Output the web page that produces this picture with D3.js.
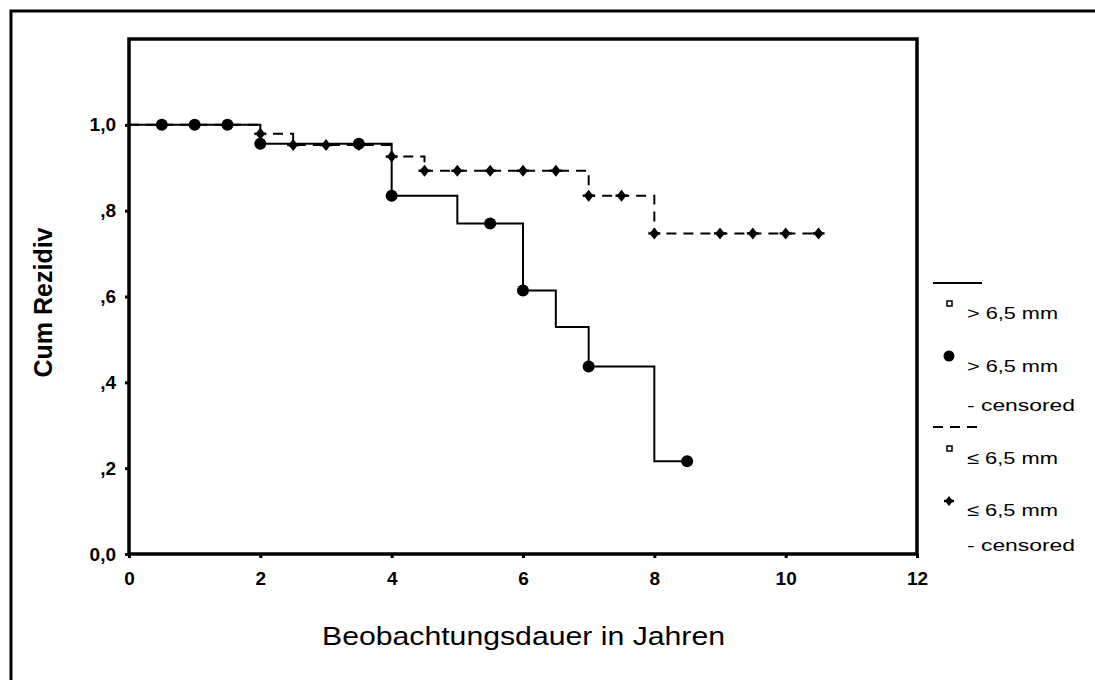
<!DOCTYPE html>
<html>
<head>
<meta charset="utf-8">
<script src="https://cdn.jsdelivr.net/npm/d3@7"></script>
<style>
    body { margin: 0; background: #fff; overflow: hidden; }
    svg { display: block; font-family: "Liberation Sans", Arial, sans-serif; }
</style>
</head>
<body>
<div class="chart"></div>
<script>

// Kaplan-Meier Stufen: [Zeit, Wert]
const gtSteps = [[0, 1.0], [2, 0.956], [4, 0.835], [5, 0.770], [6, 0.614], [6.5, 0.529], [7, 0.437], [8, 0.216]];
const gtEnd = 8.5;
const gtCensored = [0.5, 1, 1.5, 2, 3.5, 4, 5.5, 6, 7, 8.5];

const leSteps = [[0, 1.0], [2, 0.979], [2.5, 0.953], [4, 0.926], [4.5, 0.893], [7, 0.835], [8, 0.747]];
const leEnd = 10.5;
const leCensored = [2, 2.5, 3, 3.5, 4, 4.5, 5, 5.5, 6, 6.5, 7, 7.5, 8, 9, 9.5, 10, 10.5];

const xTicks = [0, 2, 4, 6, 8, 10, 12];
const yTicks = [0, 0.2, 0.4, 0.6, 0.8, 1.0];
const yTickLabels = ["0,0", ",2", ",4", ",6", ",8", "1,0"];

const legendItems = [
    {type: "line", dash: null},
    {type: "square", text: "> 6,5 mm"},
    {type: "circle", text: "> 6,5 mm"},
    {type: "text", text: "- censored"},
    {type: "line", dash: "10,7"},
    {type: "square", text: "\u2264 6,5 mm"},
    {type: "diamond", text: "\u2264 6,5 mm"},
    {type: "text", text: "- censored"}
];

const width = 1095;
const height = 680;

const margin = {left: 129, top: 39, right: 1095 - 917, bottom: 680 - 554};

const svg = d3.select(".chart")
    .append("svg")
    .attr("width", width)
    .attr("height", height);

// Aeusserer Rahmen (nur oben und links sichtbar)
svg.append("path")
    .attr("d", `M11,${height} V11 H${width}`)
    .attr("fill", "none")
    .attr("stroke", "#000")
    .attr("stroke-width", 3);

const x = d3.scaleLinear()
    .domain([0, 12])
    .range([margin.left, width - margin.right]);

const y = d3.scaleLinear()
    .domain([0, 1.2])
    .range([height - margin.bottom, margin.top]);

// Achsen

const xAxis = svg.append("g")
    .attr("transform", `translate(0,${y(0)})`)
    .call(d3.axisBottom(x).tickValues(xTicks).tickSize(4).tickPadding(14));

const yAxis = svg.append("g")
    .attr("transform", `translate(${x(0)},0)`)
    .call(d3.axisLeft(y).tickValues(yTicks).tickSize(4).tickPadding(9)
        .tickFormat((d, i) => yTickLabels[i]));

[xAxis, yAxis].forEach(a => {
    a.select(".domain").remove();
    a.selectAll("line").attr("stroke", "#000").attr("stroke-width", 3);
    a.selectAll("text")
        .attr("fill", "#000")
        .style("font-size", "19px")
        .style("font-weight", "bold");
});

// Plotrahmen
svg.append("rect")
    .attr("x", x(0))
    .attr("y", y(1.2))
    .attr("width", x(12) - x(0))
    .attr("height", y(0) - y(1.2))
    .attr("fill", "none")
    .attr("stroke", "#000")
    .attr("stroke-width", 3.5);

// Kurven

function valueAt(steps, t){
    let v = steps[0][1];
    steps.forEach(s => { if(s[0] <= t) v = s[1]; });
    return v;
}

const line = d3.line()
    .x(d => x(d[0]))
    .y(d => y(d[1]))
    .curve(d3.curveStepAfter);

function drawCurve(steps, end, dash){
    const pts = steps.concat([[end, steps[steps.length - 1][1]]]);
    svg.append("path")
        .datum(pts)
        .attr("d", line)
        .attr("fill", "none")
        .attr("stroke", "#000")
        .attr("stroke-width", 2)
        .attr("stroke-dasharray", dash);
}

drawCurve(leSteps, leEnd, "10,7");
drawCurve(gtSteps, gtEnd, null);

// Marker

function diamond(g, cx, cy, s){
    g.append("path")
        .attr("d", `M${cx},${cy - s} L${cx + s * 0.8},${cy} L${cx},${cy + s} L${cx - s * 0.8},${cy} Z`)
        .attr("fill", "#000");
    g.append("path")
        .attr("d", `M${cx - s},${cy} H${cx + s}`)
        .attr("stroke", "#000")
        .attr("stroke-width", 2.5);
}

const marks = svg.append("g");

gtCensored.forEach(t => {
    marks.append("circle")
        .attr("cx", x(t))
        .attr("cy", y(valueAt(gtSteps, t)))
        .attr("r", 6)
        .attr("fill", "#000");
});

leCensored.forEach(t => {
    diamond(marks, x(t), y(valueAt(leSteps, t)), 6);
});

// Achsentitel

svg.append("text")
    .attr("transform", `translate(52,${(y(0) + y(1.2)) / 2 + 6}) rotate(-90)`)
    .attr("text-anchor", "middle")
    .style("font-size", "25px")
    .style("font-weight", "bold")
    .text("Cum Rezidiv");

svg.append("text")
    .attr("x", 322)
    .attr("y", 645)
    .attr("textLength", 403)
    .attr("lengthAdjust", "spacingAndGlyphs")
    .style("font-size", "25px")
    .text("Beobachtungsdauer in Jahren");

// Legende

const legendY = [283, 313, 366, 405, 427, 458, 510, 545];

const legend = svg.append("g");

legendItems.forEach((d, i) => {

    const ly = legendY[i];

    if(d.type === "line"){
        legend.append("line")
            .attr("x1", 933)
            .attr("x2", 982)
            .attr("y1", ly)
            .attr("y2", ly)
            .attr("stroke", "#000")
            .attr("stroke-width", 2)
            .attr("stroke-dasharray", d.dash);
        return;
    }

    if(d.type === "square"){
        legend.append("rect")
            .attr("x", 947)
            .attr("y", ly - 12)
            .attr("width", 5)
            .attr("height", 5)
            .attr("fill", "#fff")
            .attr("stroke", "#000")
            .attr("stroke-width", 1.5);
    }

    if(d.type === "circle"){
        legend.append("circle")
            .attr("cx", 949)
            .attr("cy", ly - 10)
            .attr("r", 5.5)
            .attr("fill", "#000");
    }

    if(d.type === "diamond"){
        diamond(legend, 949, ly - 9, 5);
    }

    legend.append("text")
        .attr("x", 967)
        .attr("y", ly + 6)
        .attr("textLength", d.text.startsWith("-") ? 108 : 91)
        .attr("lengthAdjust", "spacingAndGlyphs")
        .style("font-size", "17px")
        .text(d.text);

});

</script>
</body>
</html>
